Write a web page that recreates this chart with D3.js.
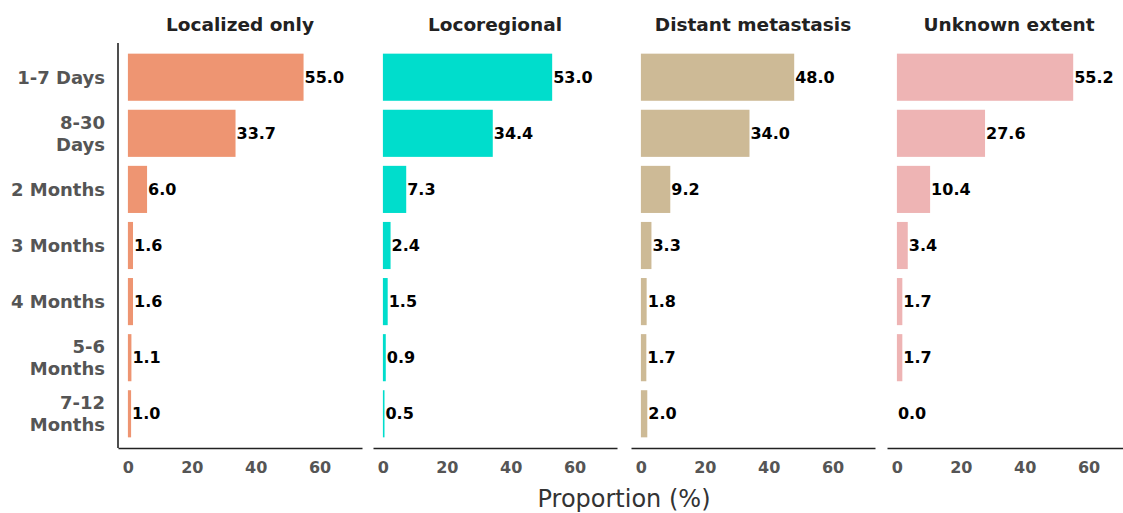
<!DOCTYPE html>
<html>
<head>
<meta charset="utf-8">
<script src="https://cdn.jsdelivr.net/npm/d3@7"></script>
<style>
  html, body { margin: 0; padding: 0; background: #fff; }
  svg { display: block; }
</style>
</head>
<body>
<svg id="chart" width="1123" height="513"></svg>
<script>
const categories = ["1-7 Days", "8-30 Days", "2 Months", "3 Months", "4 Months", "5-6 Months", "7-12 Months"];
const categoryLines = [["1-7 Days"], ["8-30", "Days"], ["2 Months"], ["3 Months"], ["4 Months"], ["5-6", "Months"], ["7-12", "Months"]];
const panels = ["Localized only", "Locoregional", "Distant metastasis", "Unknown extent"];
const localized = [55.0, 33.7, 6.0, 1.6, 1.6, 1.1, 1.0];
const locoregional = [53.0, 34.4, 7.3, 2.4, 1.5, 0.9, 0.5];
const distant = [48.0, 34.0, 9.2, 3.3, 1.8, 1.7, 2.0];
const unknown = [55.2, 27.6, 10.4, 3.4, 1.7, 1.7, 0.0];
const panelColors = ["#EE9572", "#00DDCC", "#CDBA96", "#EEB4B4"];
const xTicks = [0, 20, 40, 60];
const xTitle = "Proportion (%)";

const series = [localized, locoregional, distant, unknown];
const FONT = "'DejaVu Sans', sans-serif";

const svg = d3.select("#chart");
const panelLeft = [118, 373, 631, 887];
const panelWidth = 244;
const plotTop = 43, plotBottom = 448;

const y = d3.scaleBand().domain(categories).range([plotTop, plotBottom]).paddingInner(0.16).paddingOuter(0.19);

const yl = svg.append("g");
categories.forEach((c, i) => {
  const lines = categoryLines[i];
  const cy = y(c) + y.bandwidth() / 2;
  const lh = 22;
  const t = yl.append("text")
    .attr("x", 105)
    .attr("text-anchor", "end")
    .attr("font-family", FONT)
    .attr("font-weight", 700)
    .attr("font-size", 18)
    .attr("fill", "#555555");
  lines.forEach((ln, j) => {
    t.append("tspan")
      .attr("x", 105)
      .attr("y", cy + (j - (lines.length - 1) / 2) * lh)
      .attr("dy", "0.35em")
      .text(ln);
  });
});

svg.append("line")
  .attr("x1", panelLeft[0]).attr("x2", panelLeft[0])
  .attr("y1", plotTop).attr("y2", plotBottom)
  .attr("stroke", "#222").attr("stroke-width", 1.6);

panels.forEach((p, k) => {
  const x0 = panelLeft[k];
  const x = d3.scaleLinear().domain([-3.1, 73.3]).range([x0, x0 + panelWidth]);
  const g = svg.append("g");

  g.append("text")
    .attr("x", x0 + panelWidth / 2)
    .attr("y", 26)
    .attr("text-anchor", "middle")
    .attr("dominant-baseline", "middle")
    .attr("font-family", FONT)
    .attr("font-weight", 700)
    .attr("font-size", 18.5)
    .attr("fill", "#222222")
    .text(p);

  const data = series[k];
  g.selectAll("rect").data(categories).join("rect")
    .attr("x", x(0))
    .attr("y", c => y(c))
    .attr("width", (c, i) => Math.max(0, x(data[i]) - x(0)))
    .attr("height", y.bandwidth())
    .attr("fill", panelColors[k]);

  g.selectAll("text.val").data(categories).join("text")
    .attr("class", "val")
    .attr("x", (c, i) => x(data[i]) + 1)
    .attr("y", c => y(c) + y.bandwidth() / 2)
    .attr("dy", "0.35em")
    .attr("font-family", FONT)
    .attr("font-weight", 700)
    .attr("font-size", 16)
    .attr("fill", "#000")
    .text((c, i) => data[i].toFixed(1));

  const ax = d3.axisBottom(x).tickValues(xTicks).tickSize(0).tickPadding(14);
  const axg = g.append("g").attr("transform", `translate(0,${plotBottom})`).call(ax);
  axg.select(".domain").attr("stroke", "#222").attr("stroke-width", 1.6);
  axg.selectAll("text")
    .attr("font-family", FONT)
    .attr("font-weight", 700)
    .attr("font-size", 16)
    .attr("fill", "#555555");
});

svg.append("text")
  .attr("x", 624)
  .attr("y", 500)
  .attr("text-anchor", "middle")
  .attr("dominant-baseline", "middle")
  .attr("font-family", FONT)
  .attr("font-size", 24)
  .attr("fill", "#333333")
  .text(xTitle);
</script>
</body>
</html>
